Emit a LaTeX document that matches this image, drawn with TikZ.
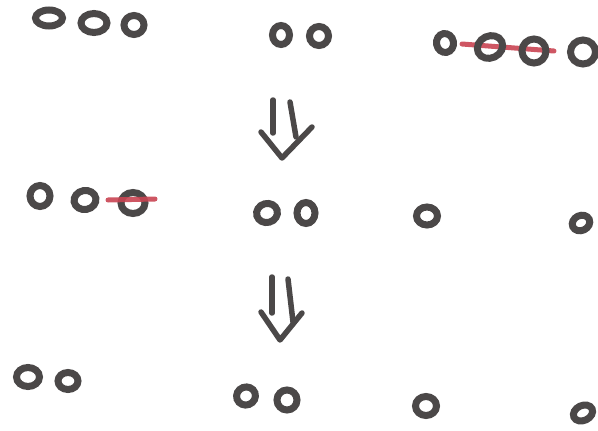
\documentclass[tikz,border=0pt]{standalone}
\usepackage{tikz}
\usetikzlibrary{shapes.geometric}
\definecolor{ink}{HTML}{4B4848}
\definecolor{strike}{HTML}{C94452}

\tikzset{
  stone/.style={ellipse,draw=ink,line width=7pt,inner sep=0pt,
    minimum width=#1},
  stone/.default=20pt,
  crossout/.style={draw=strike,line width=5pt,line cap=round,opacity=0.9},
  movearrow/.style={draw=ink,line width=5.5pt,line cap=round,line join=round}
}

\begin{document}
\begin{tikzpicture}[x=1pt,y=-1pt]
  \useasboundingbox (0,0) rectangle (598,431);
  % first position: 3, 2, 4
  \coordinate (r1a) at (462,44);
  \coordinate (r1b) at (554,51);
  \draw[crossout] (r1a) -- (r1b);
  \node[stone=27pt,minimum height=16pt] (a1) at (49,18) {};
  \node[stone=26pt,minimum height=19pt] (a2) at (94,23) {};
  \node[stone=20pt,minimum height=19pt] (a3) at (134,25) {};
  \node[stone=17pt,minimum height=19pt] (b1) at (281,35) {};
  \node[stone=19pt,minimum height=19pt] (b2) at (319,36) {};
  \node[stone=17pt,minimum height=19pt,rotate=10] (c1) at (445,43) {};
  \node[stone=26pt,minimum height=22pt,rotate=25] (c2) at (490,47) {};
  \node[stone=24pt,minimum height=24pt] (c3) at (534,51) {};
  \node[stone=25pt,minimum height=24pt] (c4) at (583,52) {};

  % first move
  \coordinate (m1) at (282,158);
  \draw[movearrow] (273,100) -- (273,133);
  \draw[movearrow] (290,102) -- (296,137);
  \draw[movearrow] (261,132) -- (m1) -- (312,127);

  % second position: 3, 2, 1, 1
  \node[stone=20pt,minimum height=21pt] (d1) at (40,196) {};
  \node[stone=22pt,minimum height=19pt,rotate=10] (d2) at (85,200) {};
  \node[stone=24pt,minimum height=21pt] (d3) at (133,203) {};
  \coordinate (r2a) at (108,200);
  \coordinate (r2b) at (155,199);
  \draw[crossout] (r2a) -- (r2b);
  \node[stone=21pt,minimum height=19pt,rotate=15] (e1) at (267,213) {};
  \node[stone=18pt,minimum height=21pt] (e2) at (306,213) {};
  \node[stone=21pt,minimum height=18pt] (f1) at (427,216) {};
  \node[stone=18pt,minimum height=15pt,rotate=25] (f2) at (581,223) {};

  % second move
  \coordinate (m2) at (280,340);
  \draw[movearrow] (272,277) -- (272,313);
  \draw[movearrow] (288,279) -- (293,322);
  \draw[movearrow] (261,312) -- (m2) -- (302,313);

  % third position: 2, 2, 1, 1
  \node[stone=23pt,minimum height=19pt] (g1) at (28,377) {};
  \node[stone=20pt,minimum height=17pt] (g2) at (68,381) {};
  \node[stone=19pt,minimum height=18pt,rotate=20] (h1) at (246,396) {};
  \node[stone=20pt,minimum height=20pt] (h2) at (287,400) {};
  \node[stone=21pt,minimum height=19pt] (i1) at (426,406) {};
  \node[stone=20pt,minimum height=15pt,rotate=25] (i2) at (583,413) {};
\end{tikzpicture}
\end{document}
